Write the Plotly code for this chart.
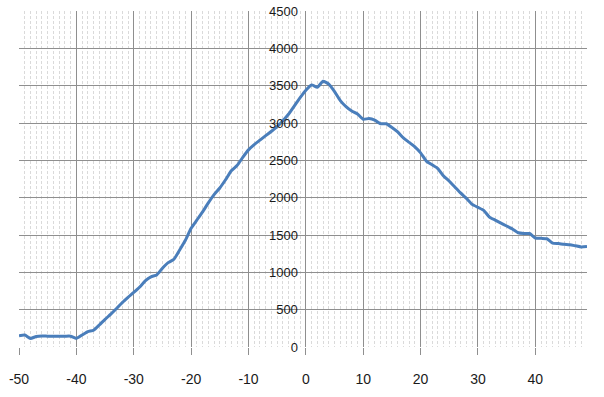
import plotly.graph_objects as go

x_vals = list(range(-50, 50))
y_vals = [
    150, 160, 115, 140, 147, 145, 145, 145, 145, 145,      # -50..-41
    115, 160, 205, 225, 295, 370, 440, 515, 595, 665,      # -40..-31
    730, 800, 885, 940, 965, 1055, 1130, 1175, 1300, 1430, # -30..-21
    1590, 1700, 1810, 1930, 2040, 2130, 2240, 2360, 2430, 2540,  # -20..-11
    2640, 2710, 2770, 2830, 2890, 2950, 3030, 3120, 3230, 3340,  # -10..-1
    3440, 3510, 3480, 3560, 3520, 3420, 3300, 3220, 3160, 3120,  # 0..9
    3050, 3060, 3040, 2990, 2990, 2940, 2880, 2800, 2740, 2680,  # 10..19
    2600, 2490, 2440, 2390, 2290, 2220, 2140, 2060, 1990, 1910,  # 20..29
    1870, 1830, 1740, 1700, 1660, 1620, 1580, 1530, 1520, 1520,  # 30..39
    1460, 1455, 1450, 1390, 1385, 1375, 1370, 1355, 1340, 1345,  # 40..49
]
x_ticks = list(range(-50, 50, 10))
y_ticks = list(range(0, 4501, 500))

major = "#8f8f8f"
minor = "#dadada"
font = dict(family="Liberation Sans, Arial, sans-serif", size=13, color="#1a1a1a")

fig = go.Figure(go.Scatter(
    x=x_vals, y=y_vals, mode="lines",
    line=dict(color="#4a7ebb", width=3, shape="spline", smoothing=0.5),
    hoverinfo="skip",
))

x0 = 0
xmin, xmax = -50, 49
ypos = (x0 - xmin) / (xmax - xmin)

fig.update_layout(
    width=604, height=397,
    margin=dict(l=19, r=17, t=11, b=50),
    paper_bgcolor="white", plot_bgcolor="white",
    showlegend=False,
    font=font,
    xaxis=dict(
        range=[xmin, xmax], tickvals=x_ticks, ticktext=[str(v) for v in x_ticks],
        showgrid=True, gridcolor=major, gridwidth=1,
        ticks="outside", ticklen=7, tickcolor=major,
        ticklabelstandoff=12, automargin=False,
        zeroline=False, showline=False,
        minor=dict(dtick=1, showgrid=True, gridcolor=minor, griddash="3px,2px", gridwidth=1),
        tickfont=dict(size=14),
    ),
    yaxis=dict(
        range=[0, 4500], tickvals=y_ticks, ticktext=[str(v) for v in y_ticks],
        showgrid=True, gridcolor=major, gridwidth=1,
        anchor="free", position=ypos, automargin=False,
        ticks="", zeroline=False, showline=False,
        ticklabelstandoff=8,
        tickfont=dict(size=13),
    ),
)

fig.write_html("out.html", config={"displayModeBar": False},
               post_script="document.body.style.margin='0';")
